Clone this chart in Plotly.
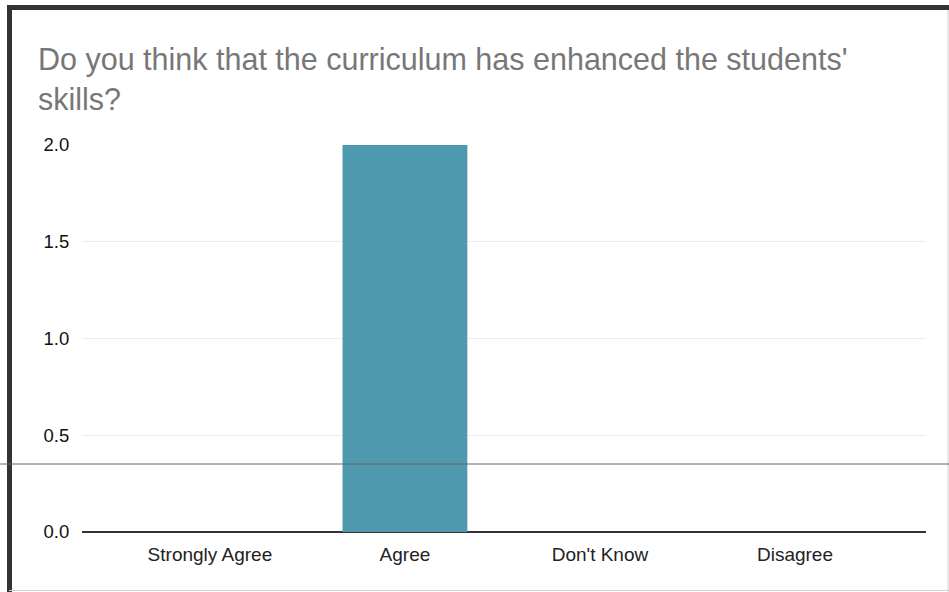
import plotly.graph_objects as go

categories = ["Strongly Agree", "Agree", "Don't Know", "Disagree"]
counts = [0, 2, 0, 0]
y_ticks = [0, 0.5, 1.0, 1.5, 2.0]
y_tick_labels = ["0.0", "0.5", "1.0", "1.5", "2.0"]
title_text = "Do you think that the curriculum has enhanced the students'<br>skills?"

W, H = 949, 592
px0, px1 = 82, W - 23
py0, py1 = 145, H - 60


def fx(x):
    return (x - px0) / (px1 - px0)


def fy(y):
    return (py1 - y) / (py1 - py0)


fig = go.Figure()
fig.add_trace(go.Bar(
    x=list(range(len(categories))), y=counts,
    marker=dict(color="#4e99ad", line=dict(width=0)),
    width=0.64, hoverinfo="skip",
))

fig.update_layout(
    width=W, height=H,
    margin=dict(l=px0, r=W - px1, t=py0, b=H - py1),
    paper_bgcolor="white", plot_bgcolor="white",
    showlegend=False,
    font=dict(family="Liberation Sans, Arial, sans-serif", color="#222222", size=19),
    title=dict(
        text=title_text,
        font=dict(family="Liberation Sans, Arial, sans-serif", size=30.5, color="#777777"),
        x=38 / W, xanchor="left", xref="container",
        y=1 - 70 / H, yanchor="top", yref="container",
    ),
    xaxis=dict(
        range=[-0.656, 3.672],
        tickmode="array",
        tickvals=list(range(len(categories))),
        ticktext=categories,
        showgrid=False, zeroline=False,
        showline=False,
        ticks="outside", ticklen=5, tickcolor="rgba(0,0,0,0)",
        tickfont=dict(size=19, color="#222222"),
        fixedrange=True,
    ),
    yaxis=dict(
        range=[0, 2],
        tickmode="array",
        tickvals=y_ticks, ticktext=y_tick_labels,
        showgrid=True, gridcolor="#ececec", gridwidth=1,
        zeroline=True, zerolinecolor="#333333", zerolinewidth=2,
        showline=False,
        ticks="outside", ticklen=8, tickcolor="rgba(0,0,0,0)",
        tickfont=dict(size=18.5, color="#111111"),
        fixedrange=True,
    ),
    shapes=[
        # scanned page border
        dict(type="line", xref="paper", yref="paper", x0=fx(7), x1=fx(W), y0=fy(7.5), y1=fy(7.5),
             line=dict(color="#333333", width=5), layer="above"),
        dict(type="line", xref="paper", yref="paper", x0=fx(9.5), x1=fx(9.5), y0=fy(5), y1=fy(H),
             line=dict(color="#333333", width=5), layer="above"),
        dict(type="line", xref="paper", yref="paper", x0=fx(948), x1=fx(948), y0=fy(10), y1=fy(H),
             line=dict(color="#cfcfcf", width=1), layer="above"),
        dict(type="line", xref="paper", yref="paper", x0=fx(9), x1=fx(W), y0=fy(590.5), y1=fy(590.5),
             line=dict(color="#d0d0d0", width=1), layer="above"),
        # scan artifact line
        dict(type="line", xref="paper", yref="paper", x0=fx(0), x1=fx(W), y0=fy(464), y1=fy(464),
             line=dict(color="#666666", width=1), layer="above"),
    ],
)

fig.write_html("out.html", config={"displayModeBar": False, "staticPlot": True},
               post_script="document.body.style.margin='0px';")
